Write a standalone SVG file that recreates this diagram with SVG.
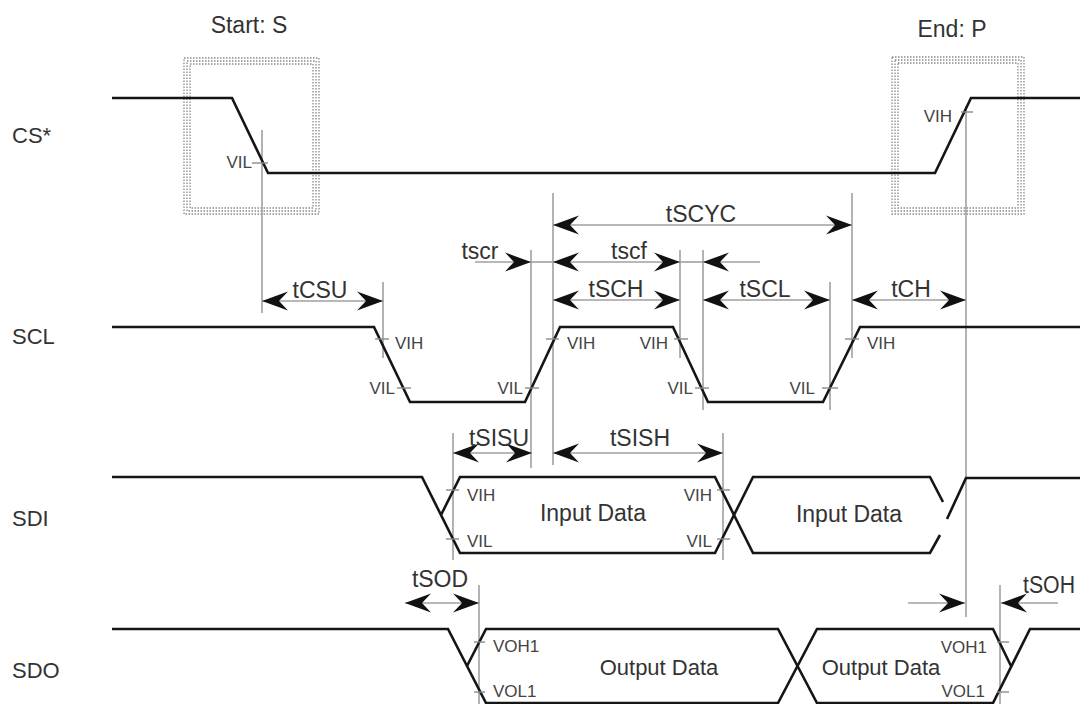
<svg xmlns="http://www.w3.org/2000/svg" width="1080" height="704" viewBox="0 0 1080 704">
<defs>
<style>
.sig{fill:none;stroke:#151515;stroke-width:2.6;stroke-linejoin:miter}
.dim{fill:none;stroke:#a0a0a0;stroke-width:1.6}
.arr{fill:none;stroke:#a0a0a0;stroke-width:1.6;marker-start:url(#ah);marker-end:url(#ah)}
.arrE{fill:none;stroke:#a0a0a0;stroke-width:1.6;marker-end:url(#ah)}
.arrS{fill:none;stroke:#a0a0a0;stroke-width:1.6;marker-start:url(#ah)}
.box{fill:none;stroke:#8a8a8a;stroke-width:1.3;stroke-dasharray:1.5 1.5}
.lbl{font-family:"Liberation Sans",Arial,sans-serif;font-size:23px;fill:#333}
.big{font-family:"Liberation Sans",Arial,sans-serif;font-size:22px;fill:#333}
.sm{font-family:"Liberation Sans",Arial,sans-serif;font-size:17px;fill:#444}
.tk{stroke:#8a8a8a;stroke-width:1.4}
</style>
<marker id="ah" viewBox="-27 -11 28 22" refX="0" refY="0" markerWidth="28" markerHeight="22" markerUnits="userSpaceOnUse" orient="auto-start-reverse">
<path d="M0,0 L-26,-9.5 L-17,0 L-26,9.5 Z" fill="#111"/>
</marker>
</defs>
<rect width="1080" height="704" fill="#fff"/>

<g id="start-box">
<rect class="box" x="184" y="58" width="135" height="156"/>
<rect class="box" x="187" y="61" width="129" height="150"/>
<rect class="box" x="190" y="64" width="123" height="144"/>
<text class="lbl" x="249" y="33" text-anchor="middle">Start: S</text>
</g>

<g id="end-box">
<rect class="box" x="892" y="57" width="132" height="157"/>
<rect class="box" x="895" y="60" width="126" height="151"/>
<rect class="box" x="898" y="63" width="120" height="145"/>
<text class="lbl" x="952" y="37" text-anchor="middle">End: P</text>
</g>

<g id="signal-names">
<text class="big" x="12" y="143">CS*</text>
<text class="big" x="12" y="344">SCL</text>
<text class="big" x="12" y="526">SDI</text>
<text class="big" x="12" y="678">SDO</text>
</g>

<g id="connectors">
<line class="dim" x1="262" y1="130" x2="262" y2="313"/>
<line class="dim" x1="383" y1="282" x2="383" y2="358"/>
<line class="dim" x1="531" y1="250" x2="531" y2="468"/>
<line class="dim" x1="553" y1="193" x2="553" y2="465"/>
<line class="dim" x1="680" y1="250" x2="680" y2="358"/>
<line class="dim" x1="703" y1="250" x2="703" y2="410"/>
<line class="dim" x1="830" y1="282" x2="830" y2="410"/>
<line class="dim" x1="852" y1="193" x2="852" y2="358"/>
<line class="dim" x1="966" y1="106" x2="966" y2="617"/>
<line class="dim" x1="453" y1="433" x2="453" y2="560"/>
<line class="dim" x1="723" y1="433" x2="723" y2="560"/>
<line class="dim" x1="479" y1="585" x2="479" y2="704"/>
<line class="dim" x1="1000" y1="585" x2="1000" y2="704"/>

<path class="arr" d="M262,301 H383"/>
<path class="arr" d="M553,225 H852"/>
<path class="arrE" d="M475,262 H531"/>
<path class="dim" d="M531,262 H553"/>
<path class="arrS" d="M553,262 H620"/>
<path class="arrE" d="M620,262 H680"/>
<path class="dim" d="M680,262 H703"/>
<path class="arrS" d="M703,262 H760"/>
<path class="arr" d="M553,300 H680"/>
<path class="arr" d="M703,300 H830"/>
<path class="arr" d="M852,300 H966"/>
<path class="arr" d="M453,453 H532"/>
<path class="arr" d="M553,453 H723"/>
<path class="arr" d="M405,603 H479"/>
<path class="arrE" d="M908,603 H965"/>
<path class="arrS" d="M1001,603 H1058"/>
</g>

<g id="timing-labels">
<text class="lbl" x="320" y="298" text-anchor="middle">tCSU</text>
<text class="lbl" x="701" y="222" text-anchor="middle">tSCYC</text>
<text class="lbl" x="480" y="259" text-anchor="middle">tscr</text>
<text class="lbl" x="629" y="259" text-anchor="middle">tscf</text>
<text class="lbl" x="616" y="297" text-anchor="middle">tSCH</text>
<text class="lbl" x="765" y="297" text-anchor="middle">tSCL</text>
<text class="lbl" x="911" y="297" text-anchor="middle">tCH</text>
<text class="lbl" x="499" y="446" text-anchor="middle">tSISU</text>
<text class="lbl" x="640" y="446" text-anchor="middle">tSISH</text>
<text class="lbl" x="440" y="587" text-anchor="middle">tSOD</text>
<text class="lbl" x="1023" y="593" textLength="52" lengthAdjust="spacingAndGlyphs">tSOH</text>
</g>

<g id="cs">
<path class="sig" d="M112,98 H232 L268,173 H935 L971,98 H1080"/>
<line class="tk" x1="252" y1="163" x2="268" y2="163"/>
<text class="sm" x="252" y="168" text-anchor="end">VIL</text>
<line class="tk" x1="961" y1="112" x2="973" y2="112"/>
<text class="sm" x="952" y="122" text-anchor="end">VIH</text>
</g>

<g id="scl">
<path class="sig" d="M112,327 H374 L410,402 H525 L560,327 H673 L708,402 H823 L860,327 H1080"/>
<line class="tk" x1="375" y1="339" x2="389" y2="339"/>
<text class="sm" x="395" y="349">VIH</text>
<line class="tk" x1="397" y1="388" x2="411" y2="388"/>
<text class="sm" x="395" y="394" text-anchor="end">VIL</text>
<line class="tk" x1="525" y1="388" x2="539" y2="388"/>
<text class="sm" x="523" y="394" text-anchor="end">VIL</text>
<line class="tk" x1="546" y1="339" x2="559" y2="339"/>
<text class="sm" x="567" y="349">VIH</text>
<line class="tk" x1="674" y1="339" x2="688" y2="339"/>
<text class="sm" x="668" y="349" text-anchor="end">VIH</text>
<line class="tk" x1="695" y1="388" x2="709" y2="388"/>
<text class="sm" x="693" y="394" text-anchor="end">VIL</text>
<line class="tk" x1="822" y1="388" x2="838" y2="388"/>
<text class="sm" x="815" y="394" text-anchor="end">VIL</text>
<line class="tk" x1="845" y1="339" x2="859" y2="339"/>
<text class="sm" x="867" y="349">VIH</text>
</g>

<g id="sdi">
<path class="sig" d="M112,477 H422 L460,553 H715 L753,477 H930 L943,502"/>
<path class="sig" d="M441,515 L460,477 H715 L753,553 H930 L940,535"/>
<path class="sig" d="M947,519 L966,478 H1080"/>
<line class="tk" x1="446" y1="490" x2="459" y2="490"/>
<text class="sm" x="467" y="501">VIH</text>
<line class="tk" x1="446" y1="539" x2="459" y2="539"/>
<text class="sm" x="467" y="547">VIL</text>
<line class="tk" x1="717" y1="490" x2="730" y2="490"/>
<text class="sm" x="712" y="501" text-anchor="end">VIH</text>
<line class="tk" x1="717" y1="539" x2="730" y2="539"/>
<text class="sm" x="712" y="547" text-anchor="end">VIL</text>
<text class="lbl" x="593" y="521" text-anchor="middle">Input Data</text>
<text class="lbl" x="849" y="522" text-anchor="middle">Input Data</text>
</g>

<g id="sdo">
<path class="sig" d="M112,629 H448 L486,703 H778 L817,629 H993 L1011,666"/>
<path class="sig" d="M467,666 L486,629 H778 L817,703 H993 L1030,629 H1080"/>
<line class="tk" x1="474" y1="642" x2="485" y2="642"/>
<text class="sm" x="493" y="652">VOH1</text>
<line class="tk" x1="474" y1="692" x2="485" y2="692"/>
<text class="sm" x="493" y="697">VOL1</text>
<line class="tk" x1="997" y1="642" x2="1009" y2="642"/>
<text class="sm" x="987" y="653" text-anchor="end">VOH1</text>
<line class="tk" x1="997" y1="692" x2="1009" y2="692"/>
<text class="sm" x="985" y="697" text-anchor="end">VOL1</text>
<text class="big" x="659" y="675" text-anchor="middle">Output Data</text>
<text class="big" x="881" y="675" text-anchor="middle">Output Data</text>
</g>
</svg>
